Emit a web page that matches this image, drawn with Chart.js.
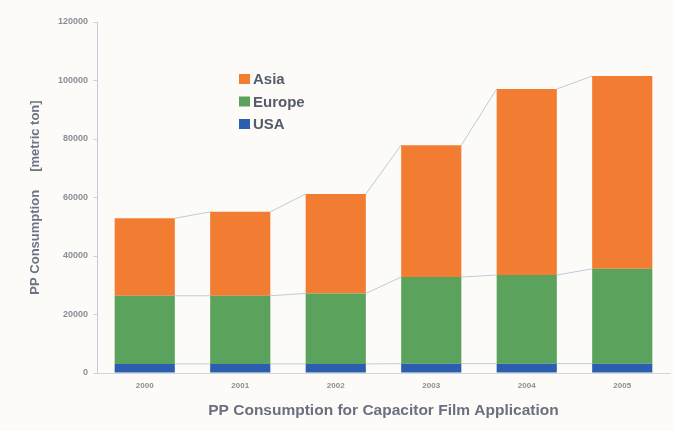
<!DOCTYPE html>
<html>
<head>
<meta charset="utf-8">
<script src="https://cdn.jsdelivr.net/npm/chart.js@4/dist/chart.umd.min.js"></script>
<style>
  html, body { margin: 0; padding: 0; background: #fdfbf8; }
  #wrap { width: 673px; height: 431px; }
</style>
</head>
<body>
<div id="wrap"><canvas id="ppChart" width="673" height="431"></canvas></div>
<script>
const years = ["2000", "2001", "2002", "2003", "2004", "2005"];
const usa = [3100, 3100, 3100, 3200, 3200, 3200];
const europe = [23300, 23300, 24100, 29600, 30300, 32400];
const asia = [26500, 28700, 34000, 45100, 63600, 65900];
const yTicks = [0, 20000, 40000, 60000, 80000, 100000, 120000];

const ORANGE = "#f27c32";
const GREEN = "#5ba35c";
const BLUE = "#2b5eae";

// thin lines joining the tops of each stack segment from bar to bar
const seriesLines = {
  id: "seriesLines",
  beforeDatasetsDraw(chart) {
    const ctx = chart.ctx;
    ctx.save();
    ctx.strokeStyle = "#bfcad8";
    ctx.lineWidth = 1;
    chart.data.datasets.forEach((ds, d) => {
      const bars = chart.getDatasetMeta(d).data;
      for (let i = 0; i < bars.length - 1; i++) {
        const a = bars[i], b = bars[i + 1];
        ctx.beginPath();
        ctx.moveTo(a.x + a.width / 2, a.y);
        ctx.lineTo(b.x - b.width / 2, b.y);
        ctx.stroke();
      }
    });
    ctx.restore();
  }
};

// legend drawn inside the plot, top series first
const innerLegend = {
  id: "innerLegend",
  afterDraw(chart) {
    const ctx = chart.ctx;
    const x = chart.chartArea.left + 142;
    let y = 79;
    ctx.save();
    ctx.font = "bold 15px 'Liberation Sans', Arial, sans-serif";
    ctx.textBaseline = "middle";
    for (let d = chart.data.datasets.length - 1; d >= 0; d--) {
      const ds = chart.data.datasets[d];
      ctx.fillStyle = ds.backgroundColor;
      ctx.fillRect(x, y - 5, 11, 10);
      ctx.fillStyle = "#555b6a";
      ctx.fillText(ds.label, x + 14, y + 1);
      y += 22.5;
    }
    ctx.restore();
  }
};

new Chart(document.getElementById("ppChart"), {
  type: "bar",
  data: {
    labels: years,
    datasets: [
      { label: "USA", data: usa, backgroundColor: BLUE },
      { label: "Europe", data: europe, backgroundColor: GREEN },
      { label: "Asia", data: asia, backgroundColor: ORANGE }
    ]
  },
  options: {
    responsive: false,
    animation: false,
    layout: { padding: { top: 22, right: 3, left: 0, bottom: 0 } },
    datasets: { bar: { categoryPercentage: 1, barPercentage: 0.63 } },
    plugins: { legend: { display: false }, tooltip: { enabled: false } },
    scales: {
      x: {
        stacked: true,
        grid: { display: false, drawTicks: false },
        border: { display: true, color: "#d3d6de", width: 1 },
        ticks: { color: "#8a8d96", padding: 8, font: { size: 8, weight: "bold", family: "'Liberation Sans', Arial" } },
        title: {
          display: true,
          text: "PP Consumption for Capacitor Film Application",
          color: "#6b7080",
          padding: { top: 4, bottom: 11 },
          font: { size: 15.5, weight: "bold", family: "'Liberation Sans', Arial" }
        },
        afterFit(scale) { scale.height = 58; }
      },
      y: {
        stacked: true,
        min: 0,
        max: 120000,
        afterBuildTicks(scale) { scale.ticks = yTicks.map(v => ({ value: v })); },
        grid: { drawOnChartArea: false, drawTicks: true, tickLength: 4, color: "#d0d4de" },
        border: { display: true, color: "#c6cad8", width: 1 },
        ticks: {
          color: "#8a8d96",
          padding: 5,
          font: { size: 9, weight: "bold", family: "'Liberation Sans', Arial" },
          callback: v => String(v)
        },
        title: {
          display: true,
          text: "PP Consumption     [metric ton]",
          color: "#6b7385",
          padding: { top: 28, bottom: 0 },
          font: { size: 13, weight: "bold", family: "'Liberation Sans', Arial" }
        },
        afterFit(scale) { scale.width = 97; }
      }
    }
  },
  plugins: [seriesLines, innerLegend]
});
</script>
</body>
</html>
